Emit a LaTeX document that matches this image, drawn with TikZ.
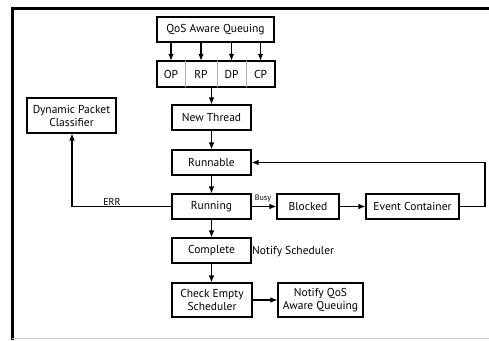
\documentclass[tikz,border=0pt]{standalone}
\usepackage{fontspec}
\setmainfont{PT Sans}
\usetikzlibrary{arrows.meta}
\begin{document}
\begin{tikzpicture}[x=1pt,y=-1pt,
  box/.style={draw=black,line width=1.1pt,align=center,inner sep=0pt,font=\fontsize{11.5}{13}\selectfont},
  cell/.style={draw=none,inner sep=0pt,minimum height=26pt,font=\fontsize{11.5}{13}\selectfont},
  arr/.style={line width=1.1pt,-{Latex[length=7pt,width=5.5pt]}},
  ln/.style={line width=1.1pt},
  lbl/.style={inner sep=0pt,font=\fontsize{11.5}{13}\selectfont}]
\useasboundingbox (0,0) rectangle (489,340);
% frame
\draw[line width=3pt] (12,340) -- (12,8.5) -- (489,8.5);
\draw[gray!40,line width=1pt] (12,338.5) -- (489,338.5);
% nodes
\node[box,minimum width=117pt,minimum height=25pt] (qos) at (215.5,29.5) {QoS Aware Queuing};
\node[box,minimum width=118pt,minimum height=26pt] (prio) at (216,74) {};
\node[cell,minimum width=28pt] (op) at (171,74) {OP};
\node[cell,minimum width=32pt] (rp) at (201,74) {RP};
\node[cell,minimum width=29pt] (dp) at (231.5,74) {DP};
\node[cell,minimum width=29pt] (cp) at (260.5,74) {CP};
\node[box,minimum width=79pt,minimum height=25pt] (nt) at (211.5,117.5) {New Thread};
\node[box,minimum width=79pt,minimum height=25pt] (rnb) at (211.5,162.5) {Runnable};
\node[box,minimum width=79pt,minimum height=25pt] (rng) at (211.5,206.5) {Running};
\node[box,minimum width=79pt,minimum height=25pt] (cmp) at (211.5,250.5) {Complete};
\node[box,minimum width=80pt,minimum height=34pt] (ces) at (212,300) {Check Empty\\Scheduler};
\node[box,minimum width=85pt,minimum height=34pt] (nqa) at (320.5,300) {Notify QoS\\Aware Queuing};
\node[box,minimum width=62pt,minimum height=25pt] (blk) at (308,206.5) {Blocked};
\node[box,minimum width=93pt,minimum height=25pt] (evc) at (412.5,206.5) {Event Container};
\node[box,minimum width=89pt,minimum height=35pt] (dpc) at (71.5,115.5) {Dynamic Packet\\Classifier};
\node[lbl,anchor=west] (ns) at (252,252) {Notify Scheduler};
\node[lbl,font=\fontsize{10}{11}\selectfont] (err) at (112,202) {ERR};
\node[lbl,font=\fontsize{8}{9}\selectfont] (busy) at (263,198) {Busy};
\coordinate (fbr) at (485,206.5);
\coordinate (errc) at (72,206.5);
% dividers
\draw[gray!60,line width=0.8pt] (op.north east) -- (op.south east);
\draw[gray!60,line width=0.8pt] (rp.north east) -- (rp.south east);
\draw[gray!60,line width=0.8pt] (dp.north east) -- (dp.south east);
% arrows
\foreach \c in {op,rp,dp,cp} \draw[arr] (qos.south -| \c.north) -- (\c.north);
\draw[arr] (prio.south -| nt.north) -- (nt.north);
\draw[arr] (nt) -- (rnb);
\draw[arr] (rnb) -- (rng);
\draw[arr] (rng) -- (cmp);
\draw[arr] (cmp.south) -- (cmp.south |- ces.north);
\draw[arr] (ces) -- (nqa);
\draw[arr] (rng) -- (blk);
\draw[arr] (blk) -- (evc);
\draw[arr] (evc.east) -- (fbr) |- (rnb.east);
\draw[arr] (rng.west) -- (errc) -- (errc |- dpc.south);
\end{tikzpicture}
\end{document}
